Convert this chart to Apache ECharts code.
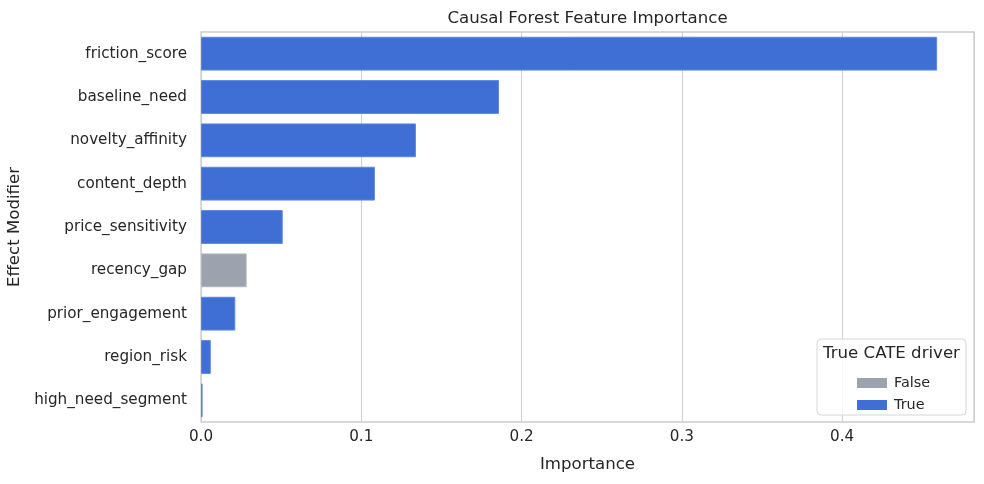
<!DOCTYPE html>
<html>
<head>
<meta charset="UTF-8">
<title>Causal Forest Feature Importance</title>
<script src="https://cdn.jsdelivr.net/npm/echarts@6/dist/echarts.min.js"></script>
<style>
  html, body { margin: 0; padding: 0; background: #fff; }
  #chart { width: 984px; height: 484px; }
</style>
</head>
<body>
<div id="chart"></div>
<script>
// data
var features = ['friction_score', 'baseline_need', 'novelty_affinity', 'content_depth',
  'price_sensitivity', 'recency_gap', 'prior_engagement', 'region_risk', 'high_need_segment'];
var importance = [0.4593, 0.1859, 0.1341, 0.1085, 0.0510, 0.0285, 0.0214, 0.0061, 0.0010];
var trueDriver = [true, true, true, true, true, false, true, true, true];
var xTicks = [0, 0.1, 0.2, 0.3, 0.4];

var BLUE = '#3f6fd4', GREY = '#9ca3af', INK = '#262626';
var FONT = 'DejaVu Sans';

function pick(flag) {
  return importance.map(function (v, i) { return trueDriver[i] === flag ? v : null; });
}

var chart = echarts.init(document.getElementById('chart'));
chart.setOption({
  animation: false,
  textStyle: { fontFamily: FONT, color: INK },
  grid: {
    left: 201, right: 10, top: 32, bottom: 62, outerBoundsMode: 'none',
    show: true, borderColor: '#cccccc', borderWidth: 1.3, backgroundColor: '#fff'
  },
  graphic: [
    {
      type: 'text', x: 587.5, y: 18.5,
      style: { text: 'Causal Forest Feature Importance', fontSize: 16.6, fontFamily: FONT,
        fill: INK, align: 'center', verticalAlign: 'middle' }
    },
    {
      type: 'rect', shape: { x: 817, y: 339, width: 149, height: 76, r: 4 },
      style: { fill: 'rgba(255,255,255,0.8)', stroke: '#d6d6d6', lineWidth: 1 }, z: 10
    },
    {
      type: 'text', x: 891.5, y: 353.5, z: 11,
      style: { text: 'True CATE driver', fontSize: 16.6, fontFamily: FONT,
        fill: INK, align: 'center', verticalAlign: 'middle' }
    }
  ],
  legend: {
    data: ['False', 'True'],
    orient: 'vertical', left: 852, top: 370, z: 12,
    icon: 'rect', itemWidth: 30, itemHeight: 10, itemGap: 6,
    itemStyle: { borderWidth: 0 },
    textStyle: { fontSize: 14.4, lineHeight: 16, color: INK, fontFamily: FONT, padding: [0, 0, 0, 2] }
  },
  xAxis: {
    type: 'value', min: 0, max: 0.4823, interval: 0.1,
    name: 'Importance', nameLocation: 'middle', nameGap: 34,
    nameTextStyle: { fontSize: 16.6, color: INK },
    axisLine: { show: false }, axisTick: { show: false },
    axisLabel: {
      fontSize: 15.2, color: INK, margin: 8, showMaxLabel: false,
      formatter: function (v) { return xTicks.indexOf(Math.round(v * 10) / 10) >= 0 ? v.toFixed(1) : ''; }
    },
    splitLine: { show: true, lineStyle: { color: '#d0d0d0', width: 1.1 } }
  },
  yAxis: {
    type: 'category', data: features, inverse: true,
    name: 'Effect Modifier', nameLocation: 'middle', nameGap: 170, nameRotate: 90,
    nameTextStyle: { fontSize: 16.6, color: INK },
    axisLine: { show: false }, axisTick: { show: false },
    axisLabel: { fontSize: 15.2, color: INK, margin: 14, padding: [3, 0, 0, 0] },
    splitLine: { show: false }
  },
  series: [
    {
      name: 'False', type: 'bar', data: pick(false), barWidth: '78%', barGap: '-100%',
      itemStyle: { color: GREY, borderColor: '#b1b7c1', borderWidth: 1 }
    },
    {
      name: 'True', type: 'bar', data: pick(true), barWidth: '78%', barGap: '-100%',
      itemStyle: { color: BLUE, borderColor: '#5c87e0', borderWidth: 1 }
    }
  ]
});
</script>
</body>
</html>
